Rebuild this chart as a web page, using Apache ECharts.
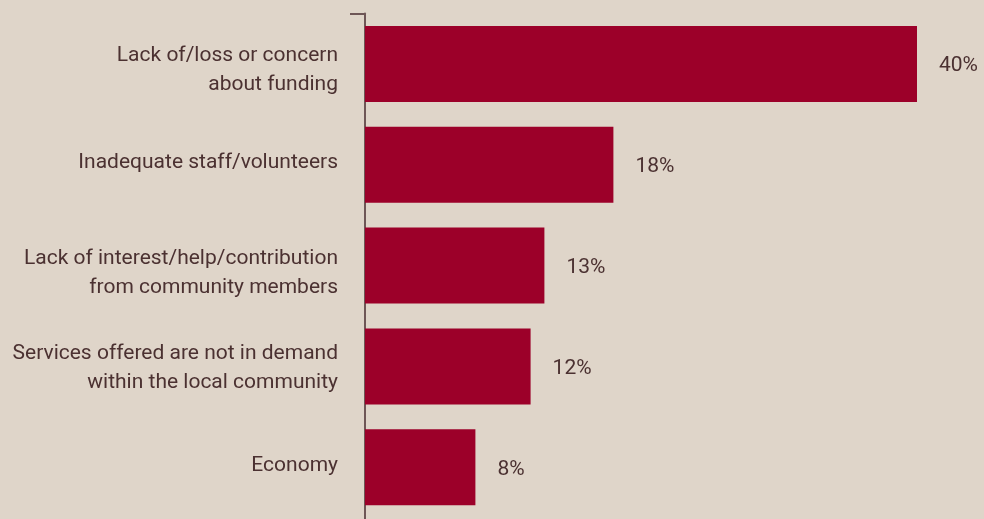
<!DOCTYPE html>
<html>
<head>
<meta charset="utf-8">
<script src="https://cdn.jsdelivr.net/npm/echarts@6/dist/echarts.min.js"></script>
<style>
  html, body { margin: 0; padding: 0; background: #dfd5c9; }
  #chart { width: 984px; height: 519px; }
</style>
</head>
<body>
<div id="chart"></div>
<script>
// Reported challenges, share of respondents (%)
const categories = [
  'Lack of/loss or concern\nabout funding',
  'Inadequate staff/volunteers',
  'Lack of interest/help/contribution\nfrom community members',
  'Services offered are not in demand\nwithin the local community',
  'Economy'
];
const values = [40, 18, 13, 12, 8];

// Small vertical nudges (px) for each category label
const labelNudge = [6, -2, 8, 2, -1.5];

const textColor = '#4b3131';
const axisColor = '#6e5656';
const fontFamily = 'Roboto';

// Rich styles: main text plus one spacer per label, used to shift the block
const rich = {
  t: { color: textColor, fontFamily: fontFamily, fontSize: 21, lineHeight: 29, align: 'right' }
};
labelNudge.forEach(function (d, i) {
  rich['sp' + i] = { fontSize: 1, lineHeight: Math.max(1, Math.round(Math.abs(2 * d))), align: 'right' };
});

function formatLabel(value, index) {
  if (!value) return '';
  const body = value.split('\n').map(function (l) { return '{t|' + l + '}'; }).join('\n');
  const d = labelNudge[index];
  if (!d) return body;
  const spacer = '{sp' + index + '| }';
  return d > 0 ? spacer + '\n' + body : body + '\n' + spacer;
}

// One blank slot after the last category lets the axis run past the bottom edge
const axisData = categories.concat(['']);

const chart = echarts.init(document.getElementById('chart'));
chart.setOption({
  backgroundColor: '#dfd5c9',
  animation: false,
  grid: { left: 365, right: 67, top: 13.5, bottom: -99.5, containLabel: false, outerBoundsMode: 'none' },
  xAxis: {
    type: 'value', min: 0, max: 40, show: false
  },
  yAxis: {
    type: 'category',
    data: axisData,
    inverse: true,
    axisLine: { show: true, lineStyle: { color: axisColor, width: 2 } },
    axisTick: { show: true, length: 15, lineStyle: { color: axisColor, width: 2 },
                interval: function (i) { return i === 0; } },
    axisLabel: {
      margin: 27, color: textColor, fontFamily: fontFamily, fontSize: 21,
      align: 'right', interval: 0, formatter: formatLabel, rich: rich
    }
  },
  series: [{
    type: 'bar',
    data: values,
    barWidth: 76,
    itemStyle: { color: '#9c0029' },
    label: {
      show: true, position: 'right', distance: 22, offset: [0, 2],
      formatter: '{c}%', color: textColor, fontFamily: fontFamily, fontSize: 21
    }
  }]
});
</script>
</body>
</html>
